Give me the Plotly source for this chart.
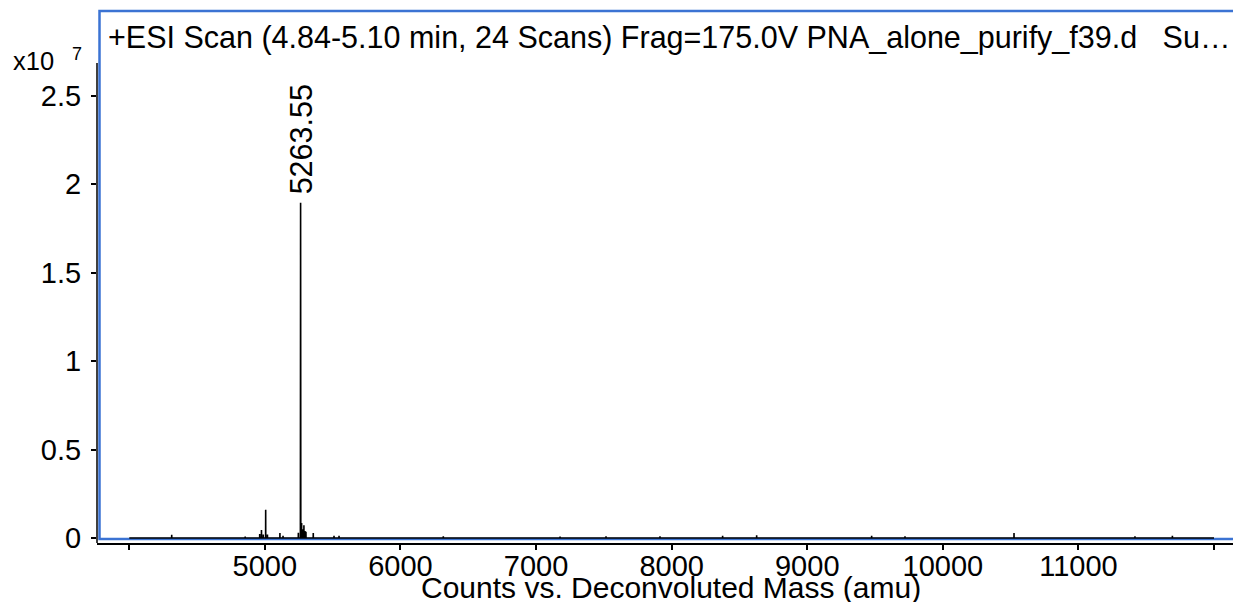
import plotly.graph_objects as go

# Deconvoluted mass spectrum (intensities in units of 1e7 counts)
peak_mass = [4313, 4855, 4962, 4975, 4988, 5006, 5019, 5111, 5134, 5247,
             5262.4, 5263.55, 5264.6, 5271, 5280, 5288, 5296, 5303, 5357,
             5510, 5547, 6316, 7177, 7516, 7914, 8376, 8627, 9475, 9721,
             10525, 11417, 11693]
peak_height = [0.018, 0.008, 0.022, 0.045, 0.02, 0.16, 0.02, 0.028, 0.012, 0.03,
               1.17, 1.895, 1.35, 0.085, 0.05, 0.072, 0.04, 0.035, 0.028,
               0.012, 0.012, 0.01, 0.008, 0.01, 0.01, 0.012, 0.015, 0.012, 0.01,
               0.028, 0.01, 0.012]
mass_start, mass_end = 4000, 12000
label_mass = 5263.55
label_height = 1.895

x_ticks = [4000, 5000, 6000, 7000, 8000, 9000, 10000, 11000, 12000]
x_tick_text = ["", "5000", "6000", "7000", "8000", "9000", "10000", "11000", ""]
y_ticks = [0, 0.5, 1, 1.5, 2, 2.5]
y_tick_text = ["0", "0.5", "1", "1.5", "2", "2.5"]

title_text = ("+ESI Scan (4.84-5.10 min, 24 Scans) Frag=175.0V "
              "PNA_alone_purify_f39.d\u00a0\u00a0\u00a0Su\u2026")
x_title = "Counts vs. Deconvoluted Mass (amu)"

# build a stick profile: baseline between peaks
half_w = 0.5
xs, ys = [mass_start], [0]
for m, h in zip(peak_mass, peak_height):
    xs += [m - half_w, m, m + half_w]
    ys += [0, h, 0]
xs.append(mass_end)
ys.append(0)

W, H = 1233, 602
L, R, T, B = 97, 0, 11, 59
pw, ph = W - L - R, H - T - B


def px(xp):
    return (xp - L) / pw


def py(yp):
    return (H - B - yp) / ph


FONT = "Liberation Sans, Arial, sans-serif"
BLUE = "#3b73d3"

fig = go.Figure()
fig.add_trace(go.Scatter(x=xs, y=ys, mode="lines",
                         line=dict(color="black", width=1.6),
                         hoverinfo="skip", showlegend=False))

fig.update_layout(
    width=W, height=H,
    margin=dict(l=L, r=R, t=T, b=B, pad=0),
    paper_bgcolor="white", plot_bgcolor="white",
    font=dict(family=FONT, size=29, color="black"),
    xaxis=dict(range=[3762, 12140], tickvals=x_ticks, ticktext=x_tick_text,
               ticks="outside", ticklen=5, tickwidth=1.5, tickcolor="black",
               showline=True, linecolor="black", linewidth=1.5,
               showgrid=False, zeroline=False, ticklabelstandoff=-9,
               tickfont=dict(size=29)),
    yaxis=dict(range=[-0.0283, 2.979], tickvals=y_ticks, ticktext=y_tick_text,
               ticks="outside", ticklen=5, tickwidth=1.5, tickcolor="black",
               showline=False, showgrid=False, zeroline=False,
               ticklabelstandoff=4, tickfont=dict(size=29)),
    shapes=[
        # outer blue frame
        dict(type="rect", xref="paper", yref="paper",
             x0=px(99.5), x1=1.05, y0=py(539), y1=1.0,
             line=dict(color=BLUE, width=2.5), layer="below"),
        # vertical axis line
        dict(type="line", xref="paper", yref="paper",
             x0=0, x1=0, y0=py(63), y1=0,
             line=dict(color="black", width=1.5)),
    ],
    annotations=[
        dict(text=title_text, xref="paper", yref="paper",
             x=px(106), y=py(38), xanchor="left", yanchor="middle",
             showarrow=False, font=dict(size=30.5)),
        dict(text="x10", xref="paper", yref="paper",
             x=px(33), y=py(61), xanchor="center", yanchor="middle",
             showarrow=False, font=dict(size=25.5)),
        dict(text="7", xref="paper", yref="paper",
             x=px(77), y=py(54), xanchor="center", yanchor="middle",
             showarrow=False, font=dict(size=18)),
        dict(text=x_title, xref="paper", yref="paper",
             x=px(671), y=py(587), xanchor="center", yanchor="middle",
             showarrow=False, font=dict(size=30)),
        dict(text=f"{label_mass:.2f}", x=label_mass, y=label_height,
             xref="x", yref="y", textangle=-90, xanchor="center",
             yanchor="bottom", yshift=6, showarrow=False,
             font=dict(size=30.5)),
    ],
)

fig.write_html("out.html")
